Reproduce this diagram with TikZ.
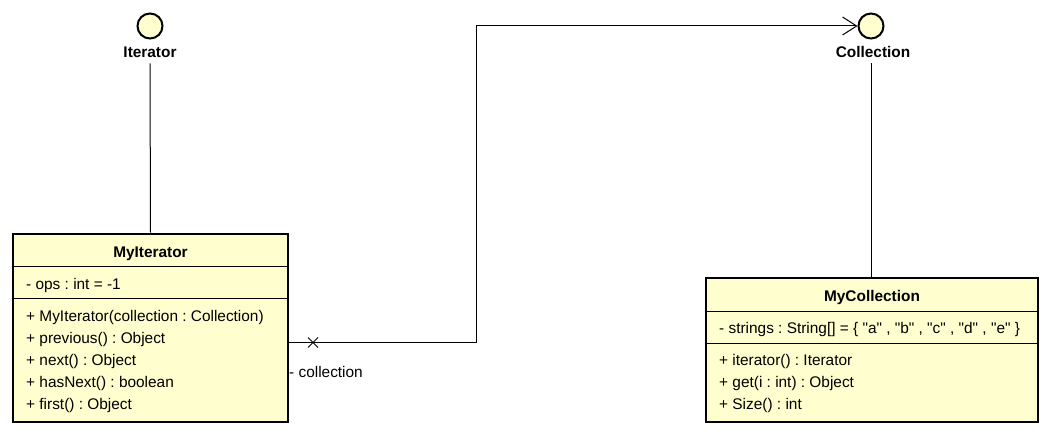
\documentclass[tikz,border=0pt]{standalone}
\usepackage{fontspec}
\setmainfont{Liberation Sans}
\usetikzlibrary{arrows.meta}
\definecolor{umlfill}{HTML}{FEFECE}
\frenchspacing
\newcommand{\dq}{\textquotedbl}
\begin{document}
\begin{tikzpicture}[x=1pt,y=-1pt,
  classbox/.style={draw=black, line width=2.8pt, fill=umlfill, inner sep=0, rectangle},
  iface/.style={circle, draw=black, line width=2pt, fill=umlfill, minimum size=25pt, inner sep=0},
  sep/.style={draw=black, line width=1pt},
  conn/.style={draw=black, line width=1pt},
  member/.style={anchor=base west, inner sep=0, font=\fontsize{15.4}{17}\selectfont},
  ctitle/.style={anchor=base, inner sep=0, font=\fontsize{15.4}{17}\selectfont\bfseries},
  ilabel/.style={anchor=base, inner sep=0, font=\fontsize{15.4}{17}\selectfont\bfseries},
  alabel/.style={anchor=base west, inner sep=0, font=\fontsize{15.4}{17}\selectfont}]
\useasboundingbox (0,0) rectangle (1052,436);

% interfaces
\node[iface] (iter) at (150,26) {};
\node[ilabel] (iterlbl) at (150,58) {Iterator};
\node[iface] (coll) at (871,26) {};
\node[ilabel] (colllbl) at (873,58) {Collection};

% MyIterator class
\node[classbox, minimum width=275pt, minimum height=188pt] (myit) at (150.5,328) {};
\node[ctitle] (myittitle) at (150.5,257) {MyIterator};
\draw[sep] (myit.west |- 0,266) -- (myit.east |- 0,266);
\node[member] (myitA) at (26,289) {- ops : int = -1};
\draw[sep] (myit.west |- 0,298) -- (myit.east |- 0,298);
\node[member] (myitM1) at (26,321) {+ MyIterator(collection : Collection)};
\node[member] (myitM2) at (26,343) {+ previous() : Object};
\node[member] (myitM3) at (26,365) {+ next() : Object};
\node[member] (myitM4) at (26,387) {+ hasNext() : boolean};
\node[member] (myitM5) at (26,409) {+ first() : Object};

% MyCollection class
\node[classbox, minimum width=332pt, minimum height=144pt] (mycoll) at (872,350) {};
\node[ctitle] (mycolltitle) at (872,301) {MyCollection};
\draw[sep] (mycoll.west |- 0,311) -- (mycoll.east |- 0,311);
\node[member] (mycollA) at (719,333) {- strings : String[] = \{ \dq a\dq{} , \dq b\dq{} , \dq c\dq{} , \dq d\dq{} , \dq e\dq{} \}};
\draw[sep] (mycoll.west |- 0,343) -- (mycoll.east |- 0,343);
\node[member] (mycollM1) at (719,365) {+ iterator() : Iterator};
\node[member] (mycollM2) at (719,387) {+ get(i : int) : Object};
\node[member] (mycollM3) at (719,409) {+ Size() : int};

% realization lines
\draw[conn] ([yshift=-5pt]iterlbl.south) -- (myit.north);
\draw[conn] ([yshift=-5pt]colllbl.south -| coll.south) -- (mycoll.north -| coll.south);

% association
\coordinate (bendA) at (476.5,342.5);
\coordinate (bendB) at (476.5,26);
\draw[conn, -{Straight Barb[length=14pt,width=18pt,line width=1pt]}]
  (myit.east |- bendA) -- (bendA) -- (bendB) -- (coll.west);
\coordinate (xmark) at (313,342.5);
\draw[conn] (xmark) +(-5,-5) -- +(5,5);
\draw[conn] (xmark) +(-5,5) -- +(5,-5);
\node[alabel] (assoclbl) at (289,377) {- collection};
\end{tikzpicture}
\end{document}
